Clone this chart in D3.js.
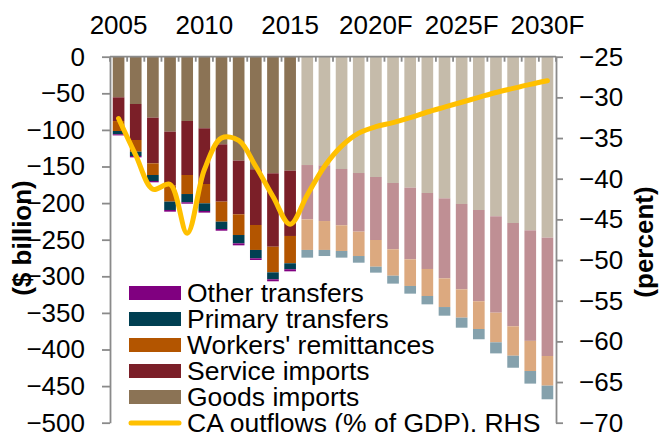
<!DOCTYPE html>
<html lang="en">
<head>
<meta charset="UTF-8">
<title>Current account outflows</title>
<script src="https://cdn.jsdelivr.net/npm/d3@7"></script>
<style>
	body { margin: 0; background: #fff; font-family: "Liberation Sans", Arial, sans-serif; }
	text { fill: #000; }
	.axis path, .axis line { fill: none; stroke: #8a8a8a; stroke-width: 1.8px; }
	.axis text { font-size: 26px; }
	.label { font-size: 26px; font-weight: bold; }
	.legend text { font-size: 26.5px; }
</style>
</head>
<body>
<script>
// categories
const years = [2005, 2006, 2007, 2008, 2009, 2010, 2011, 2012, 2013, 2014, 2015,
	2016, 2017, 2018, 2019, 2020, 2021, 2022, 2023, 2024, 2025, 2026, 2027, 2028, 2029, 2030];
const lastActual = 2015;
const tickYears = [2005, 2010, 2015, 2020, 2025, 2030];
const tickLabels = ['2005', '2010', '2015', '2020F', '2025F', '2030F'];

// $ billion outflows (shown as negatives)
const goods = [55.5, 64.6, 83.3, 102.4, 87.8, 97.8, 119.7, 142, 153.8, 159.3, 155.7,
	148, 148.4, 153.4, 158.9, 164.3, 172.5, 178.9, 186.2, 193.5, 201.2, 209.4, 218, 227.2, 237.2, 247.2];
const services = [32.4, 49.2, 62.4, 73.8, 73.8, 76.1, 78.3, 73.3, 76.1, 100.3, 89.2,
	74.2, 76.1, 76.9, 80.1, 86.1, 90.6, 97.9, 103.8, 109.3, 116.6, 124.7, 131.7, 141.1, 151, 161.7];
const remittances = [13.6, 16, 15.9, 21.8, 26, 26.4, 27.4, 28.3, 34.1, 35, 37.3,
	41.8, 39.5, 35.1, 33.3, 36.5, 36.1, 36.4, 36.9, 39.2, 38.7, 37.9, 40.5, 40.2, 41.2, 40.5];
const primary = [4.5, 5.9, 8.2, 11.4, 11.3, 10.5, 10, 11.4, 11.4, 9.5, 8.2,
	10.5, 8.3, 9.1, 9.1, 8.1, 10.8, 10.5, 11.4, 11.8, 13.7, 14, 15.1, 16.4, 17.2, 18.6];
const otherTransfers = [1.5, 1.8, 1.8, 2.3, 1.9, 2.2, 2.3, 2.7, 2.3, 2.7, 2.8,
	0, 0, 0, 0, 0, 0, 0, 0, 0, 0, 0, 0, 0, 0, 0];

// CA outflows, % of GDP (right axis)
const caOutflows = [-32.6, -37.1, -41.3, -40.7, -46.7, -38.9, -35.0, -35.3, -38.5, -42.2, -45.6,
	-42, -38.5, -36, -34.4, -33.6, -33.1, -32.5, -31.8, -31.2, -30.6, -30.0, -29.4, -28.9, -28.4, -27.95];

var keys = ['goods', 'services', 'remittances', 'primary', 'other'];
var series = { goods: goods, services: services, remittances: remittances, primary: primary, other: otherTransfers };
var colors = {
	goods: ['#8b7355', '#c5bbaa'],
	services: ['#7b1f28', '#bf8f94'],
	remittances: ['#b35500', '#dca97f'],
	primary: ['#003f52', '#85a1ac'],
	other: ['#800080', '#c27fc2']
};
var legendItems = [
	{ key: 'other', text: 'Other transfers' },
	{ key: 'primary', text: 'Primary transfers' },
	{ key: 'remittances', text: "Workers' remittances" },
	{ key: 'services', text: 'Service imports' },
	{ key: 'goods', text: 'Goods imports' }
];

var width = 664, height = 432;
var plotLeft = 110, plotRight = 556, plotTop = 56.7, plotBottom = 422.7;

var rows = years.map((y, i) => {
	var r = { year: y };
	keys.forEach(k => r[k] = -series[k][i]);
	return r;
});

var svg = d3.select('body').append('svg')
	.attr('width', width)
	.attr('height', height);

var x = d3.scaleBand().domain(years).range([plotLeft, plotRight]).paddingInner(0.32).paddingOuter(0.16);
var yL = d3.scaleLinear().domain([-500, 0]).range([plotBottom, plotTop]);
var yR = d3.scaleLinear().domain([-70, -25]).range([plotBottom, plotTop]);

var stacked = d3.stack().keys(keys).offset(d3.stackOffsetDiverging)(rows);

svg.append('g').selectAll('g')
	.data(stacked)
	.enter().append('g')
	.each(function(s) {
		d3.select(this).selectAll('rect')
			.data(s)
			.enter().append('rect')
			.attr('x', d => x(d.data.year))
			.attr('width', x.bandwidth())
			.attr('y', d => yL(d[1]))
			.attr('height', d => yL(d[0]) - yL(d[1]))
			.attr('fill', d => colors[s.key][d.data.year > lastActual ? 1 : 0]);
	});

// left axis
svg.append('g')
	.attr('class', 'axis')
	.attr('transform', 'translate(' + plotLeft + ',0)')
	.call(d3.axisLeft(yL).tickValues(d3.range(0, -501, -50)).tickSizeInner(8).tickSizeOuter(0).tickPadding(17));

// right axis
svg.append('g')
	.attr('class', 'axis')
	.attr('transform', 'translate(' + plotRight + ',0)')
	.call(d3.axisRight(yR).tickValues(d3.range(-25, -71, -5)).tickSizeInner(7).tickSizeOuter(0).tickPadding(16));

// top category axis: labels centred on bars, tick marks on band edges
var topAxis = svg.append('g')
	.attr('class', 'axis')
	.attr('transform', 'translate(0,' + plotTop + ')')
	.call(d3.axisTop(x).tickValues(tickYears).tickSize(0).tickPadding(23)
		.tickFormat(d => tickLabels[tickYears.indexOf(d)]));
topAxis.select('.domain').remove();

var gap = x.step() - x.bandwidth();
var edges = years.map(y => x(y) - gap / 2).concat([plotRight]);
var edgeG = svg.append('g').attr('class', 'axis');
edgeG.append('line')
	.attr('x1', plotLeft).attr('x2', plotRight)
	.attr('y1', plotTop).attr('y2', plotTop);
edgeG.selectAll('.edge')
	.data(edges)
	.enter().append('line')
	.attr('class', 'edge')
	.attr('x1', d => d).attr('x2', d => d)
	.attr('y1', plotTop).attr('y2', plotTop + 5);

// CA outflows line
var line = d3.line()
	.x((d, i) => x(years[i]) + x.bandwidth() / 2)
	.y(d => yR(d))
	.curve(d3.curveCatmullRom.alpha(0.5));

svg.append('path')
	.datum(caOutflows)
	.attr('d', line)
	.attr('fill', 'none')
	.attr('stroke', '#ffc000')
	.attr('stroke-width', 5)
	.attr('stroke-linecap', 'round')
	.attr('stroke-linejoin', 'round');

// axis titles
svg.append('text')
	.attr('class', 'label')
	.attr('transform', 'translate(31,238) rotate(-90)')
	.attr('text-anchor', 'middle')
	.text('($ billion)');

svg.append('text')
	.attr('class', 'label')
	.attr('transform', 'translate(653,242) rotate(-90)')
	.attr('text-anchor', 'middle')
	.text('(percent)');

// legend
var legend = svg.append('g').attr('class', 'legend');
var row = legend.selectAll('g')
	.data(legendItems)
	.enter().append('g')
	.attr('transform', (d, i) => 'translate(129,' + (293 + i * 26) + ')');
row.append('rect')
	.attr('x', 0).attr('y', -7)
	.attr('width', 52).attr('height', 14)
	.attr('fill', d => colors[d.key][0]);
row.append('text')
	.attr('x', 58).attr('y', 9)
	.text(d => d.text);

var lineRow = legend.append('g')
	.attr('transform', 'translate(129,' + (293 + 5 * 26) + ')');
lineRow.append('line')
	.attr('x1', 2).attr('x2', 50)
	.attr('stroke', '#ffc000').attr('stroke-width', 5)
	.attr('stroke-linecap', 'round');
lineRow.append('text')
	.attr('x', 58).attr('y', 9)
	.text('CA outflows (% of GDP), RHS');
</script>
</body>
</html>
